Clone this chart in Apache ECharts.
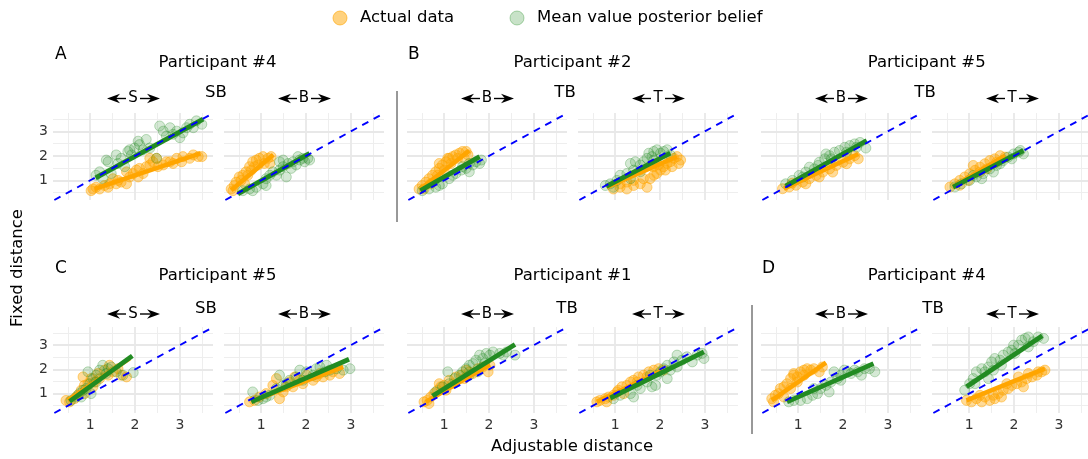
<!DOCTYPE html>
<html><head><meta charset="utf-8">
<script src="https://cdn.jsdelivr.net/npm/echarts@6/dist/echarts.min.js"></script>
<style>html,body{margin:0;padding:0;background:#fff}#c{width:1088px;height:459px}</style>
</head><body><div id="c"></div>
<script>
// ---------------- DATA ----------------
const X_TICKS = [1, 2, 3];
const Y_TICKS = [1, 2, 3];
const MAJOR_GRID = [1, 2, 3];
const MINOR_GRID = [0.5, 1.5, 2.5, 3.5];
const IDENTITY = [0.2, 3.74];            // y = x reference line end values
const LEGEND_NAMES = ['Actual data', 'Mean value posterior belief'];
const PARTICIPANT_TITLES = ['Participant #4', 'Participant #2', 'Participant #5', 'Participant #5', 'Participant #1', 'Participant #4'];
const PAIR_LABELS = ['SB', 'TB', 'TB', 'SB', 'TB', 'TB'];
const SECTION_LETTERS = ['A', 'B', '', 'C', '', 'D'];
const STRIP_LABELS = ['S', 'B', 'B', 'T', 'B', 'T', 'S', 'B', 'B', 'T', 'B', 'T'];
const X_TITLE = 'Adjustable distance';
const Y_TITLE = 'Fixed distance';

// A: Participant #4, SB
const A_P4_S_actual = [[1.02,0.58],[1.06,0.65],[1.13,0.72],[1.21,0.65],[1.32,0.79],[1.40,0.72],[1.43,0.86],[1.51,1.07],[1.58,0.86],[1.62,1.00],[1.69,0.93],[1.81,0.86],[1.81,1.35],[1.88,1.14],[1.96,1.28],[2.03,1.42],[2.07,1.14],[2.10,1.49],[2.18,1.28],[2.25,1.56],[2.33,1.63],[2.33,1.90],[2.40,1.76],[2.48,1.90],[2.51,1.56],[2.63,1.63],[2.70,1.76],[2.78,1.76],[2.85,1.69],[2.93,1.90],[3.04,1.76],[3.07,1.97],[3.22,1.90],[3.30,2.04],[3.41,1.97],[3.49,1.97]];
const A_P4_S_posterior = [[1.13,1.21],[1.21,1.35],[1.28,1.07],[1.36,1.83],[1.40,1.76],[1.47,1.28],[1.58,2.04],[1.62,1.69],[1.69,1.90],[1.77,1.56],[1.84,2.18],[1.88,2.25],[1.92,2.04],[1.99,2.32],[2.07,2.60],[2.10,2.46],[2.18,2.25],[2.25,2.67],[2.33,2.32],[2.48,1.90],[2.55,3.22],[2.63,3.01],[2.70,2.81],[2.78,3.15],[2.85,2.88],[2.93,3.01],[3.00,2.74],[3.07,2.94],[3.15,3.15],[3.22,3.29],[3.30,3.15],[3.37,3.43],[3.49,3.29]];
const A_P4_S_fitActual = [[1.10,0.65],[3.46,2.10]];
const A_P4_S_fitPosterior = [[1.12,1.10],[3.52,3.50]];

const A_P4_B_actual = [[0.33,0.65],[0.37,0.58],[0.40,0.79],[0.44,0.93],[0.51,1.14],[0.55,1.00],[0.59,1.21],[0.63,0.86],[0.66,1.35],[0.70,1.21],[0.74,1.56],[0.78,1.42],[0.81,1.76],[0.85,1.56],[0.89,1.83],[0.93,1.63],[0.96,1.90],[1.04,1.97],[1.07,1.69],[1.15,1.90],[1.19,1.69],[1.22,1.97]];
const A_P4_B_posterior = [[0.59,0.58],[0.74,0.65],[0.81,0.58],[0.89,0.72],[1.04,0.86],[1.11,0.79],[1.11,1.07],[1.19,1.21],[1.26,1.35],[1.34,1.21],[1.41,1.42],[1.41,1.76],[1.49,1.56],[1.49,1.83],[1.56,1.14],[1.60,1.69],[1.67,1.49],[1.71,1.76],[1.78,1.63],[1.82,1.97],[1.86,1.83],[1.93,1.90],[1.97,1.76],[2.04,1.90],[2.08,1.83]];
const A_P4_B_fitActual = [[0.33,0.60],[1.27,2.05]];
const A_P4_B_fitPosterior = [[0.48,0.45],[2.08,2.10]];

// B: Participant #2, TB
const B_P2_B_actual = [[0.44,0.65],[0.51,0.79],[0.55,0.65],[0.59,0.93],[0.66,1.07],[0.70,0.86],[0.74,1.21],[0.81,1.35],[0.85,1.21],[0.89,1.49],[0.89,1.69],[0.96,1.63],[1.00,1.42],[1.04,1.76],[1.08,1.90],[1.11,1.90],[1.15,1.69],[1.19,1.97],[1.26,2.04],[1.30,1.90],[1.34,2.11],[1.41,2.18],[1.45,1.90],[1.49,2.18],[1.53,2.04]];
const B_P2_B_posterior = [[0.51,0.58],[0.66,0.65],[0.81,0.72],[0.89,0.79],[0.96,0.86],[1.11,1.07],[1.19,1.21],[1.26,1.28],[1.38,1.42],[1.41,1.56],[1.49,1.49],[1.56,1.35],[1.56,1.69],[1.64,1.63],[1.71,1.76],[1.79,1.69],[1.83,1.83]];
const B_P2_B_fitActual = [[0.47,0.65],[1.56,2.21]];
const B_P2_B_fitPosterior = [[0.47,0.58],[1.79,1.97]];

const B_P2_T_actual = [[0.96,0.65],[1.11,0.72],[1.11,0.86],[1.26,0.65],[1.26,0.93],[1.41,0.79],[1.41,1.00],[1.56,0.86],[1.63,1.07],[1.71,0.72],[1.78,1.07],[1.86,1.21],[1.86,1.56],[1.93,1.28],[1.97,1.63],[2.01,1.42],[2.08,1.56],[2.12,1.42],[2.16,1.69],[2.23,1.76],[2.27,1.56],[2.31,1.90],[2.38,1.97],[2.42,1.69],[2.46,1.83]];
const B_P2_T_posterior = [[0.78,0.79],[0.89,0.86],[0.96,0.72],[1.04,1.00],[1.11,1.21],[1.26,1.28],[1.34,1.07],[1.34,1.69],[1.41,1.42],[1.45,1.76],[1.56,1.35],[1.56,1.63],[1.63,1.76],[1.71,1.90],[1.75,2.11],[1.82,1.97],[1.86,1.83],[1.86,2.18],[1.93,2.25],[2.01,2.11],[2.08,2.18],[2.16,2.25],[2.23,2.04]];
const B_P2_T_fitActual = [[0.81,0.72],[2.38,1.97]];
const B_P2_T_fitPosterior = [[0.80,0.76],[2.23,2.11]];

// Participant #5, TB (top row)
const P5_TB_B_actual = [[0.65,0.66],[0.80,0.73],[0.87,0.89],[0.95,0.80],[1.10,0.93],[1.17,0.86],[1.25,1.07],[1.40,1.20],[1.47,1.14],[1.55,1.34],[1.70,1.47],[1.77,1.34],[1.85,1.61],[2.00,1.74],[2.08,1.68],[2.15,1.88],[2.26,2.01],[2.34,1.88]];
const P5_TB_B_posterior = [[0.72,0.86],[0.87,1.00],[1.02,1.20],[1.10,1.14],[1.17,1.34],[1.25,1.54],[1.36,1.47],[1.44,1.61],[1.47,1.74],[1.59,1.88],[1.62,2.08],[1.70,2.01],[1.74,1.88],[1.81,2.15],[1.92,2.22],[2.04,2.35],[2.08,2.15],[2.15,2.42],[2.26,2.49],[2.30,2.35],[2.38,2.55],[2.51,2.32]];
const P5_TB_B_fitActual = [[0.68,0.66],[2.34,2.08]];
const P5_TB_B_fitPosterior = [[0.72,0.77],[2.53,2.62]];

const P5_TB_T_actual = [[0.57,0.73],[0.68,0.86],[0.79,0.80],[0.79,1.00],[0.90,1.14],[0.98,1.00],[1.01,1.27],[1.09,1.61],[1.13,1.41],[1.24,1.34],[1.24,1.54],[1.35,1.68],[1.39,1.47],[1.46,1.81],[1.57,1.88],[1.61,1.74],[1.69,2.01],[1.80,1.95]];
const P5_TB_T_posterior = [[0.68,0.73],[0.83,0.86],[1.01,1.00],[1.09,1.20],[1.16,1.14],[1.28,1.07],[1.31,1.27],[1.46,1.47],[1.54,1.34],[1.61,1.61],[1.69,1.68],[1.76,1.81],[1.87,1.95],[1.95,1.88],[1.99,2.08],[2.10,2.15],[2.14,2.22],[2.21,2.08]];
const P5_TB_T_fitActual = [[0.64,0.73],[1.80,2.01]];
const P5_TB_T_fitPosterior = [[0.64,0.73],[2.21,2.22]];

// C: Participant #5, SB
const C_P5_S_actual = [[0.46,0.72],[0.54,0.66],[0.65,0.79],[0.72,0.93],[0.80,1.14],[0.84,1.69],[0.87,1.34],[0.87,1.00],[0.95,1.41],[1.02,1.62],[1.06,1.28],[1.10,1.48],[1.17,1.83],[1.21,1.62],[1.32,1.97],[1.40,1.76],[1.43,2.17],[1.51,1.90],[1.62,2.03],[1.69,1.76],[1.81,1.69]];
const C_P5_S_posterior = [[0.57,0.72],[0.69,0.86],[0.76,1.00],[0.80,0.86],[0.84,1.14],[0.91,1.21],[0.95,1.90],[0.99,1.41],[1.02,1.00],[1.06,1.62],[1.13,1.76],[1.13,1.48],[1.21,1.97],[1.28,2.17],[1.36,1.83],[1.40,2.03],[1.47,2.10],[1.58,1.90],[1.73,1.76],[1.96,1.87]];
const C_P5_S_fitActual = [[0.50,0.72],[1.88,2.45]];
const C_P5_S_fitPosterior = [[0.54,0.68],[1.94,2.56]];

const C_P5_B_actual = [[0.74,0.66],[0.85,0.72],[0.96,0.86],[1.11,1.00],[1.26,1.34],[1.34,1.62],[1.41,0.79],[1.49,1.07],[1.56,1.28],[1.63,1.48],[1.71,1.28],[1.75,1.69],[1.86,1.55],[1.93,1.41],[2.01,1.76],[2.16,1.55],[2.23,1.69],[2.31,1.83],[2.38,1.69],[2.53,1.76],[2.60,1.90],[2.75,1.83]];
const C_P5_B_posterior = [[0.81,1.07],[0.93,0.72],[1.04,0.79],[1.11,0.86],[1.19,0.93],[1.34,1.21],[1.41,1.76],[1.49,1.34],[1.56,1.41],[1.63,1.55],[1.78,1.69],[1.86,1.97],[1.93,1.55],[2.01,1.90],[2.16,1.76],[2.23,2.03],[2.31,2.10],[2.42,1.90],[2.46,2.17],[2.53,1.97],[2.68,2.03],[2.83,1.97],[2.98,2.03]];
const C_P5_B_fitActual = [[0.78,0.68],[2.83,2.10]];
const C_P5_B_fitPosterior = [[0.78,0.66],[2.96,2.42]];

// Participant #1, TB
const P1_TB_B_actual = [[0.55,0.66],[0.62,0.72],[0.66,0.59],[0.70,0.86],[0.77,1.00],[0.85,1.14],[0.89,1.41],[0.92,1.28],[1.00,1.34],[1.04,1.14],[1.11,1.55],[1.19,1.41],[1.26,1.69],[1.38,1.76],[1.45,1.62],[1.49,1.97],[1.56,1.90],[1.64,1.83],[1.75,2.03],[1.86,2.10],[1.98,1.90],[2.02,2.17]];
const P1_TB_B_posterior = [[0.81,1.07],[0.96,1.28],[1.08,1.90],[1.11,1.41],[1.23,1.62],[1.34,1.76],[1.41,1.90],[1.49,2.03],[1.56,2.17],[1.56,1.76],[1.64,2.24],[1.71,2.38],[1.75,1.90],[1.79,2.59],[1.86,2.45],[1.90,2.24],[1.94,2.66],[2.02,2.59],[2.09,2.72],[2.24,2.66],[2.32,2.59],[2.39,2.72],[2.58,2.59]];
const P1_TB_B_fitActual = [[0.59,0.66],[2.02,2.20]];
const P1_TB_B_fitPosterior = [[0.74,0.90],[2.58,3.03]];

const P1_TB_T_actual = [[0.59,0.66],[0.66,0.72],[0.78,0.79],[0.81,0.66],[0.85,0.86],[0.96,0.93],[1.04,1.07],[1.07,1.14],[1.15,1.28],[1.19,1.00],[1.26,1.34],[1.34,1.48],[1.41,1.55],[1.49,1.48],[1.52,1.69],[1.63,1.76],[1.71,1.69],[1.75,1.90],[1.86,1.97],[1.97,2.03],[2.08,1.97]];
const P1_TB_T_posterior = [[0.96,0.79],[1.11,0.93],[1.34,1.00],[1.41,0.86],[1.49,1.34],[1.56,1.21],[1.71,1.48],[1.78,1.76],[1.82,1.28],[1.90,1.34],[1.93,1.76],[2.01,1.90],[2.08,2.03],[2.16,2.17],[2.16,1.62],[2.23,1.97],[2.31,2.31],[2.38,2.10],[2.38,2.59],[2.49,2.38],[2.60,2.52],[2.72,2.31],[2.83,2.59],[2.94,2.66],[2.98,2.45]];
const P1_TB_T_fitActual = [[0.59,0.66],[2.08,1.97]];
const P1_TB_T_fitPosterior = [[0.89,0.82],[2.98,2.72]];

// D: Participant #4, TB
const D_P4_B_actual = [[0.41,0.79],[0.45,0.66],[0.49,0.93],[0.56,1.00],[0.60,1.21],[0.68,1.28],[0.68,0.86],[0.75,1.41],[0.83,1.62],[0.83,1.21],[0.90,1.76],[0.90,1.83],[0.98,1.69],[0.98,1.48],[1.05,1.90],[1.13,1.97],[1.13,1.76],[1.20,2.03],[1.28,1.97],[1.35,2.03],[1.47,1.90],[1.54,2.10]];
const D_P4_B_posterior = [[0.79,0.66],[0.90,0.72],[1.05,0.72],[1.20,0.79],[1.32,0.93],[1.35,1.21],[1.43,1.00],[1.50,1.21],[1.62,1.34],[1.69,1.07],[1.73,1.48],[1.80,1.90],[1.88,1.62],[1.95,1.76],[1.95,1.55],[2.03,1.97],[2.11,1.90],[2.18,1.83],[2.26,1.97],[2.33,1.90],[2.41,1.76],[2.48,2.03],[2.59,2.03],[2.71,1.90]];
const D_P4_B_fitActual = [[0.41,0.72],[1.62,2.28]];
const D_P4_B_fitPosterior = [[0.75,0.66],[2.68,2.24]];

const D_P4_T_actual = [[0.94,0.72],[1.05,0.66],[1.16,0.79],[1.24,0.93],[1.28,0.66],[1.35,0.86],[1.46,0.72],[1.54,0.93],[1.57,0.79],[1.65,1.00],[1.72,0.86],[1.76,1.14],[1.84,1.41],[1.87,1.21],[1.95,1.34],[2.06,1.41],[2.10,1.69],[2.17,1.48],[2.21,1.28],[2.28,1.62],[2.32,1.83],[2.40,1.69],[2.51,1.76],[2.54,1.90],[2.62,1.90],[2.69,1.97]];
const D_P4_T_posterior = [[0.90,1.14],[1.01,1.41],[1.09,1.62],[1.13,1.41],[1.16,1.90],[1.28,2.03],[1.35,1.90],[1.43,2.10],[1.43,1.62],[1.50,2.31],[1.54,1.97],[1.57,2.45],[1.69,2.38],[1.72,2.17],[1.76,2.59],[1.87,2.72],[1.95,2.79],[1.99,3.00],[2.02,2.66],[2.10,3.00],[2.17,3.21],[2.25,3.28],[2.32,3.34],[2.32,2.93],[2.43,3.14],[2.54,3.34],[2.66,3.28]];
const D_P4_T_fitActual = [[0.94,0.72],[2.69,2.03]];
const D_P4_T_fitPosterior = [[0.94,1.28],[2.63,3.39]];

const PANELS = [
  [A_P4_S_actual, A_P4_S_posterior, A_P4_S_fitActual, A_P4_S_fitPosterior],
  [A_P4_B_actual, A_P4_B_posterior, A_P4_B_fitActual, A_P4_B_fitPosterior],
  [B_P2_B_actual, B_P2_B_posterior, B_P2_B_fitActual, B_P2_B_fitPosterior],
  [B_P2_T_actual, B_P2_T_posterior, B_P2_T_fitActual, B_P2_T_fitPosterior],
  [P5_TB_B_actual, P5_TB_B_posterior, P5_TB_B_fitActual, P5_TB_B_fitPosterior],
  [P5_TB_T_actual, P5_TB_T_posterior, P5_TB_T_fitActual, P5_TB_T_fitPosterior],
  [C_P5_S_actual, C_P5_S_posterior, C_P5_S_fitActual, C_P5_S_fitPosterior],
  [C_P5_B_actual, C_P5_B_posterior, C_P5_B_fitActual, C_P5_B_fitPosterior],
  [P1_TB_B_actual, P1_TB_B_posterior, P1_TB_B_fitActual, P1_TB_B_fitPosterior],
  [P1_TB_T_actual, P1_TB_T_posterior, P1_TB_T_fitActual, P1_TB_T_fitPosterior],
  [D_P4_B_actual, D_P4_B_posterior, D_P4_B_fitActual, D_P4_B_fitPosterior],
  [D_P4_T_actual, D_P4_T_posterior, D_P4_T_fitActual, D_P4_T_fitPosterior]
];

// ---------------- LAYOUT / STYLE ----------------
const FONT = '"DejaVu Sans", sans-serif';
const COL_LEFT = [53, 224, 407, 578, 761, 932];
const ROW_TOP = [113, 327];
const PW = 160, PH = [87, 86];
const XMIN = 0.17, XMAX = 3.74, YMIN = 0.2, YMAX = 3.75;
const ORANGE = '#FFA500', GREEN = '#228B22';

const majorStyle = { color: '#E8E8E8', width: 1.8, type: 'solid' };
const minorStyle = { color: '#EEEEEE', width: 1, type: 'solid' };
function gridLineData() {
  const d = [];
  MINOR_GRID.forEach(v => { d.push({ xAxis: v, lineStyle: minorStyle }); d.push({ yAxis: v, lineStyle: minorStyle }); });
  MAJOR_GRID.forEach(v => { d.push({ xAxis: v, lineStyle: majorStyle }); d.push({ yAxis: v, lineStyle: majorStyle }); });
  return d;
}

const grids = [], xAxes = [], yAxes = [], series = [];
PANELS.forEach((p, i) => {
  const r = Math.floor(i / 6), c = i % 6;
  grids.push({ left: COL_LEFT[c], top: ROW_TOP[r], width: PW, height: PH[r], containLabel: false, outerBoundsMode: 'none' });
  xAxes.push({
    type: 'value', gridIndex: i, min: XMIN, max: XMAX,
    axisLine: { show: false }, axisTick: { show: false }, splitLine: { show: false },
    axisLabel: { show: r === 1, customValues: X_TICKS, margin: 5, fontSize: 14, color: '#333', fontFamily: FONT }
  });
  yAxes.push({
    type: 'value', gridIndex: i, min: YMIN, max: YMAX,
    axisLine: { show: false }, axisTick: { show: false }, splitLine: { show: false },
    axisLabel: { show: c === 0, customValues: Y_TICKS, margin: 5, fontSize: 14, color: '#333', fontFamily: FONT }
  });
  const [actual, posterior, fitA, fitP] = p;
  series.push({
    type: 'scatter', name: LEGEND_NAMES[0], xAxisIndex: i, yAxisIndex: i, z: 2,
    data: actual, symbol: 'circle', symbolSize: 10, silent: true,
    itemStyle: { color: 'rgba(255,165,0,0.5)', borderColor: 'rgba(255,165,0,0.6)', borderWidth: 1 },
    markLine: { silent: true, z: 1, symbol: ['none', 'none'], label: { show: false }, animation: false, data: gridLineData() }
  });
  series.push({
    type: 'scatter', name: LEGEND_NAMES[1], xAxisIndex: i, yAxisIndex: i, z: 3,
    data: posterior, symbol: 'circle', symbolSize: 10, silent: true,
    itemStyle: { color: 'rgba(34,139,34,0.24)', borderColor: 'rgba(34,139,34,0.36)', borderWidth: 1 }
  });
  series.push({
    type: 'line', xAxisIndex: i, yAxisIndex: i, z: 4, data: fitA, symbol: 'none', silent: true,
    lineStyle: { color: ORANGE, width: 4.5, cap: 'butt' }
  });
  series.push({
    type: 'line', xAxisIndex: i, yAxisIndex: i, z: 5, data: fitP, symbol: 'none', silent: true,
    lineStyle: { color: GREEN, width: 4.8, cap: 'butt' }
  });
  series.push({
    type: 'line', xAxisIndex: i, yAxisIndex: i, z: 6, symbol: 'none', silent: true,
    data: [[IDENTITY[0], IDENTITY[0]], [IDENTITY[1], IDENTITY[1]]],
    lineStyle: { color: '#0000FF', width: 1.9, type: [7, 6] }
  });
});

// ---------------- ANNOTATIONS ----------------
const graphics = [];
function txt(x, y, text, size, align, rot) {
  graphics.push({
    type: 'text', x: x, y: y, rotation: rot || 0, silent: true, z: 10,
    style: { text: text, font: size + 'px ' + FONT, fill: '#000', align: align || 'center', verticalAlign: 'middle', textAlign: align || 'center', textVerticalAlign: 'middle' }
  });
}
function strip(cx, y, letter) {
  txt(cx, y, letter, 15, 'center');
  const L = [[cx - 26, y], [cx - 13, y - 4.8], [cx - 17, y], [cx - 13, y + 4.8]];
  const R = [[cx + 27, y], [cx + 14, y - 4.8], [cx + 18, y], [cx + 14, y + 4.8]];
  graphics.push({ type: 'polygon', silent: true, z: 10, shape: { points: L }, style: { fill: '#000' } });
  graphics.push({ type: 'polygon', silent: true, z: 10, shape: { points: R }, style: { fill: '#000' } });
  graphics.push({ type: 'line', silent: true, z: 10, shape: { x1: cx - 18, y1: y, x2: cx - 7, y2: y }, style: { stroke: '#000', lineWidth: 1.4 } });
  graphics.push({ type: 'line', silent: true, z: 10, shape: { x1: cx + 7, y1: y, x2: cx + 19, y2: y }, style: { stroke: '#000', lineWidth: 1.4 } });
}
// legend
graphics.push({ type: 'circle', silent: true, shape: { cx: 340, cy: 18, r: 7 }, style: { fill: 'rgba(255,165,0,0.5)', stroke: 'rgba(255,165,0,0.6)', lineWidth: 1 } });
graphics.push({ type: 'circle', silent: true, shape: { cx: 517, cy: 18, r: 7 }, style: { fill: 'rgba(34,139,34,0.25)', stroke: 'rgba(34,139,34,0.35)', lineWidth: 1 } });
txt(360, 18, LEGEND_NAMES[0], 16.5, 'left');
txt(537, 18, LEGEND_NAMES[1], 16.5, 'left');

const TITLE_X = [217.5, 572.5, 926.7];
const TITLE_Y = [63, 276];
const PAIR_X = [[216, 565, 925], [206, 567, 933]];
const PAIR_Y = [92.5, 309];
const STRIP_Y = [98.5, 314];
const LETTER_POS = [[55, 55], [408, 55], null, [55, 269], null, [762, 269]];
PARTICIPANT_TITLES.forEach((t, k) => {
  const r = Math.floor(k / 3), c = k % 3;
  txt(TITLE_X[c], TITLE_Y[r], t, 16.5, 'center');
  txt(PAIR_X[r][c], PAIR_Y[r], PAIR_LABELS[k], 16.5, 'center');
  if (SECTION_LETTERS[k]) txt(LETTER_POS[k][0], LETTER_POS[k][1], SECTION_LETTERS[k], 17, 'left');
});
STRIP_LABELS.forEach((s, i) => {
  const r = Math.floor(i / 6), c = i % 6;
  strip(COL_LEFT[c] + PW / 2, STRIP_Y[r], s);
});
// separators
graphics.push({ type: 'line', silent: true, shape: { x1: 397, y1: 91, x2: 397, y2: 222 }, style: { stroke: '#333', lineWidth: 1 } });
graphics.push({ type: 'line', silent: true, shape: { x1: 752, y1: 305, x2: 752, y2: 434 }, style: { stroke: '#333', lineWidth: 1 } });
// axis titles
txt(572, 447, X_TITLE, 16.5, 'center');
txt(18, 268, Y_TITLE, 16.5, 'center', Math.PI / 2);

const chart = echarts.init(document.getElementById('c'), null, { renderer: 'canvas' });
chart.setOption({
  animation: false,
  backgroundColor: '#fff',
  grid: grids, xAxis: xAxes, yAxis: yAxes, series: series,
  graphic: { elements: graphics }
});
</script>
</body></html>
